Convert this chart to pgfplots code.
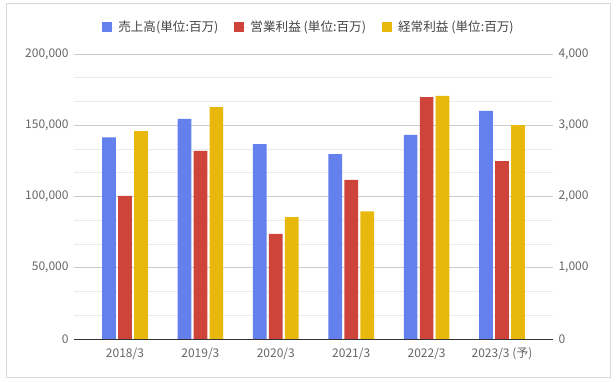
\documentclass[border=0pt]{standalone}
\usepackage{pgfplots}
\pgfplotsset{compat=1.18}
\usepackage{fontspec}
\setmainfont{Noto Sans CJK JP}
\definecolor{cblue}{HTML}{6380EC}
\definecolor{cred}{HTML}{CF443A}
\definecolor{cyellow}{HTML}{E8B80C}
\definecolor{ctick}{HTML}{666666}
\definecolor{clegend}{HTML}{444444}
\definecolor{cmajor}{HTML}{CCCCCC}
\definecolor{cminor}{HTML}{EBEBEB}
\definecolor{cbase}{HTML}{333333}
\definecolor{cframe}{HTML}{D9D9D9}
\begin{document}
\begin{tikzpicture}
\useasboundingbox (0,0) rectangle (616bp,382bp);
\draw[cframe, line width=1bp] (6bp,4bp) rectangle (610bp,378bp);
\pgfplotsset{
  common/.style={
    scale only axis, width=479bp, height=285bp,
    at={(74bp,43bp)}, anchor=south west,
    xmin=-0.676, xmax=5.676,
    ybar, bar width=0.182,
    axis line style={draw=none},
    major tick style={draw=none}, minor tick style={draw=none},
    ymin=0,
    tick label style={font=\fontsize{12bp}{14bp}\selectfont, text=ctick},
    scaled y ticks=false,
    clip=false,
  },
}
\begin{axis}[common,
  ymax=200000,
  ytick={0,50000,100000,150000,200000},
  yticklabels={0,{50,000},{100,000},{150,000},{200,000}},
  minor y tick num=2,
  ymajorgrids, yminorgrids,
  major grid style={cmajor, line width=0.8bp},
  minor grid style={cminor, line width=0.8bp},
  yticklabel style={xshift=-2bp},
  xtick={0,1,2,3,4,5},
  xticklabels={2018/3,2019/3,2020/3,2021/3,2022/3,2023/3 (予)},
  xticklabel style={yshift=-1bp},
  legend columns=3,
  legend style={at={(0.4906,1.0947)}, anchor=center, draw=none, fill=none,
    font=\fontsize{12.6bp}{15bp}\selectfont, text=clegend,
    /tikz/every even column/.append style={column sep=14bp}},
  legend image code/.code={\fill[#1] (0bp,-5bp) rectangle (10bp,5bp);
    \path (0bp,0bp) -- (14bp,0bp);},
]
\addplot[fill=cblue, draw=none, bar shift=-0.212] coordinates {
(0,141500) (1,154400) (2,136800) (3,129800) (4,143200) (5,160000)};
\addlegendentry{売上高(単位:百万)}
\addlegendimage{fill=cred, draw=none}
\addlegendentry{営業利益 (単位:百万)}
\addlegendimage{fill=cyellow, draw=none}
\addlegendentry{経常利益 (単位:百万)}
\draw[cbase, line width=1bp] (axis cs:-0.676,0) -- (axis cs:5.676,0);
\end{axis}
\begin{axis}[common,
  ymax=4000,
  ytick={0,1000,2000,3000,4000},
  yticklabels={0,{1,000},{2,000},{3,000},{4,000}},
  axis y line*=right,
  axis x line=none,
  yticklabel style={xshift=2bp},
]
\addplot[fill=cred, draw=none, bar shift=0] coordinates {
(0,2007) (1,2639) (2,1474) (3,2232) (4,3396) (5,2498)};
\addplot[fill=cyellow, draw=none, bar shift=0.212] coordinates {
(0,2919) (1,3256) (2,1712) (3,1792) (4,3411) (5,3003)};
\end{axis}
\end{tikzpicture}
\end{document}
